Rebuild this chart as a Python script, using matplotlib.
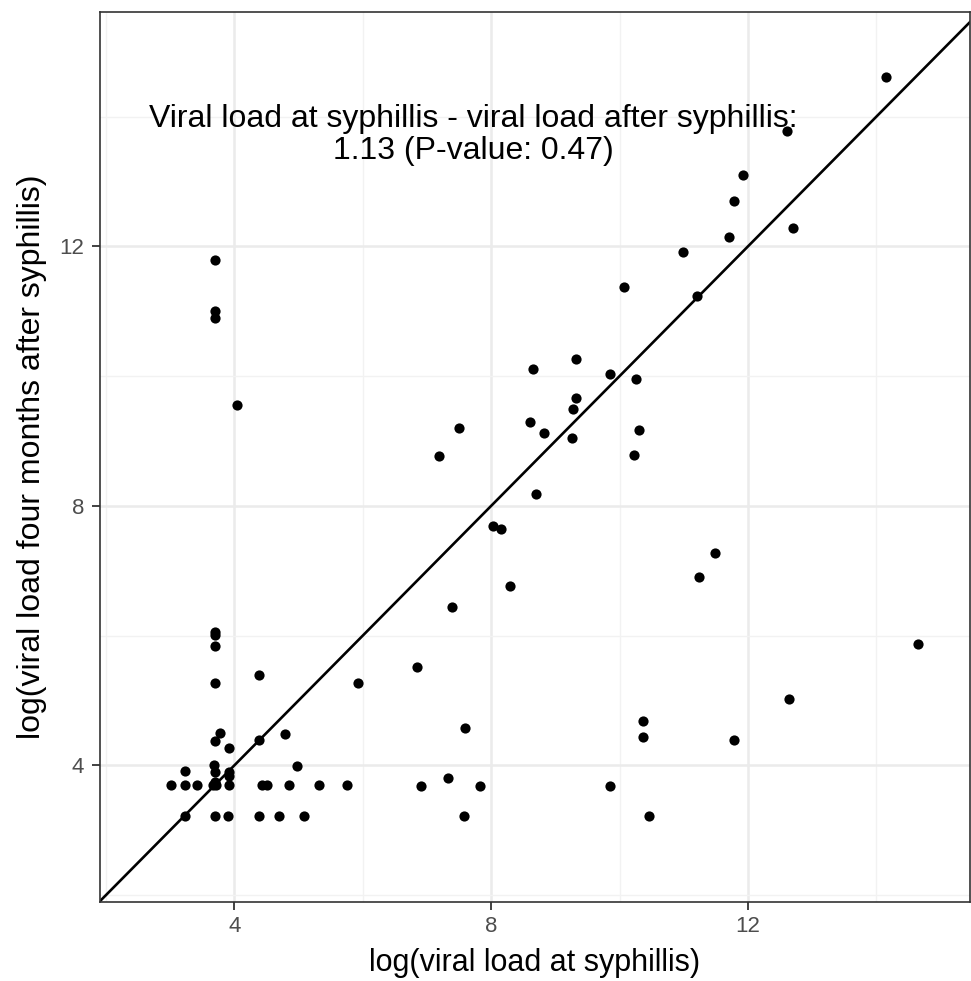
import matplotlib.pyplot as plt
import numpy as np

plt.rcParams['font.family'] = ['Liberation Sans', 'DejaVu Sans']

# log viral load at syphilis (x) and four months after (y)
vl_at = [3.70, 3.70, 3.70, 3.70, 4.39, 5.93, 3.77, 3.70, 3.92, 4.39,
         4.79, 3.68, 3.70, 3.92, 3.92, 4.97, 3.23,
         3.01, 3.23, 3.41, 3.67, 3.72, 3.70, 3.92, 4.43, 4.50, 4.85, 5.32, 5.75,
         3.23, 3.70, 3.90, 4.39, 4.69, 5.08,
         3.69, 3.69, 3.69, 4.04,
         6.84, 7.59, 10.37, 10.37, 6.90, 7.33, 7.82, 7.57, 9.85, 10.46,
         9.32, 8.65, 9.85, 10.26, 9.32, 9.27, 7.50, 8.60, 8.83, 10.31,
         9.26, 7.18, 10.22, 8.70, 8.03, 8.15, 8.29, 7.39, 11.24,
         14.15, 12.61, 11.92, 11.78, 11.70, 12.71, 10.99, 10.07, 11.20,
         11.49, 14.65, 12.64, 11.79]
vl_after = [6.06, 6.01, 5.84, 5.27, 5.39, 5.27, 4.50, 4.38, 4.27, 4.39,
            4.48, 4.00, 3.90, 3.90, 3.84, 3.99, 3.91,
            3.69, 3.69, 3.69, 3.69, 3.69, 3.75, 3.69, 3.69, 3.69, 3.69, 3.69, 3.69,
            3.22, 3.22, 3.22, 3.22, 3.22, 3.22,
            11.79, 11.00, 10.90, 9.55,
            5.51, 4.57, 4.69, 4.44, 3.68, 3.81, 3.68, 3.22, 3.68, 3.22,
            10.26, 10.11, 10.03, 9.96, 9.67, 9.49, 9.20, 9.30, 9.12, 9.17,
            9.05, 8.77, 8.79, 8.19, 7.69, 7.65, 6.77, 6.44, 6.91,
            14.62, 13.78, 13.10, 12.70, 12.14, 12.29, 11.91, 11.37, 11.23,
            7.28, 5.87, 5.02, 4.39]

note = 'Viral load at syphillis - viral load after syphillis:\n1.13 (P-value: 0.47)'

fig = plt.figure(figsize=(9.71, 9.81), dpi=100)
ax = fig.add_axes([100 / 971, 1 - 901.7 / 981, 870 / 971, (901.7 - 12.3) / 981])

ax.set_xlim(1.906, 15.46)
ax.set_ylim(1.897, 15.61)

# theme_bw style grid
ax.set_xticks([4, 8, 12])
ax.set_yticks([4, 8, 12])
ax.set_xticks([2, 6, 10, 14], minor=True)
ax.set_yticks([2, 6, 10, 14], minor=True)
ax.grid(True, which='major', color='#EBEBEB', linewidth=1.8)
ax.grid(True, which='minor', color='#F2F2F2', linewidth=1.0)
ax.set_axisbelow(True)
ax.tick_params(which='minor', length=0)
ax.tick_params(which='major', length=6, width=1.3, color='#333333',
               labelcolor='#4D4D4D', labelsize=16)
ax.tick_params(axis='x', pad=4.5)
ax.tick_params(axis='y', pad=5.5)
for s in ax.spines.values():
    s.set_color('#333333')
    s.set_linewidth(1.2)

ax.axline((0, 0), slope=1, color='black', linewidth=1.9, zorder=2)
ax.scatter(vl_at, vl_after, s=54, color='black', linewidths=0, zorder=3)

ax.text(7.72, 13.72, note, ha='center', va='center', fontsize=23,
        linespacing=1.1)

ax.set_xlabel('log(viral load at syphillis)', fontsize=22, labelpad=8)
ax.set_ylabel('log(viral load four months after syphillis)', fontsize=23,
              labelpad=9)

fig.savefig('out.png', dpi=100)
